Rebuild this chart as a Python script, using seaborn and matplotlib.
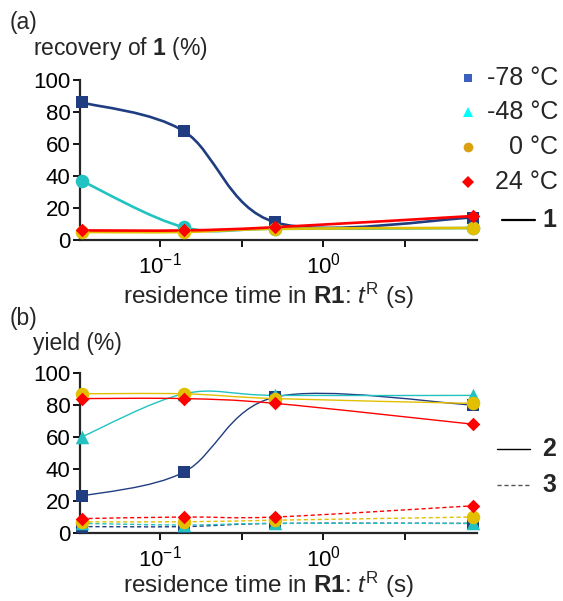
import numpy as np
import matplotlib
matplotlib.use("Agg")
import matplotlib.pyplot as plt
import seaborn as sns
from matplotlib.path import Path
from matplotlib.patches import PathPatch
from matplotlib.lines import Line2D
from matplotlib.ticker import FixedLocator, FuncFormatter, NullLocator

# residence time in R1 (s)
t_res = [0.033, 0.14, 0.51, 8.3]
temps = ["-78 °C", "-48 °C", "0 °C", "24 °C"]

# (a) recovery of 1 (%)
rec_m78 = [86, 68, 11, 14]
rec_m48 = [37, 8, 7, 7.5]
rec_0 = [5, 5, 7, 7.5]
rec_24 = [6, 6, 8, 15]

# (b) yield of 2 (solid) and 3 (dashed) (%)
y2_m78 = [23, 38, 85, 80]
y2_m48 = [60, 87, 86, 86]
y2_0 = [87, 87, 84, 81]
y2_24 = [84, 84, 81, 68]
y3_m78 = [4, 4, 6, 6]
y3_m48 = [6, 5, 6, 6]
y3_0 = [7, 7, 8, 10]
y3_24 = [9, 10, 10, 17]

colors = ["#1f3d80", "#22c2c2", "#e2c000", "#ff0000"]
leg_colors = ["#3a60c0", "#00ffff", "#d9a010", "#ff0000"]
markers_a = ["s", "o", "o", "D"]
markers_b = ["s", "^", "o", "D"]
sizes = {"s": 70, "o": 95, "^": 95, "D": 48}

sns.set_style("ticks")
plt.rcParams["font.family"] = ["Liberation Sans", "DejaVu Sans"]
plt.rcParams["mathtext.fontset"] = "custom"
plt.rcParams["mathtext.rm"] = "Liberation Sans"
plt.rcParams["mathtext.it"] = "Liberation Sans:italic"
plt.rcParams["mathtext.bf"] = "Liberation Sans:bold"

W, H = 563, 601
fig = plt.figure(figsize=(W / 100, H / 100), dpi=100)


def fx(px):
    return px / W


def fy(py):
    return 1 - py / H


def smooth_line(ax, x, y, **kw):
    # Catmull-Rom style bezier in log-x space, like a "smoothed line"
    pts = np.column_stack([np.log10(x), np.asarray(y, float)])
    p = np.vstack([pts[0], pts, pts[-1]])
    verts = [pts[0]]
    codes = [Path.MOVETO]
    for i in range(len(pts) - 1):
        c1 = p[i + 1] + (p[i + 2] - p[i]) / 6
        c2 = p[i + 2] - (p[i + 3] - p[i + 1]) / 6
        verts += [c1, c2, pts[i + 1]]
        codes += [Path.CURVE4] * 3
    verts = np.array(verts)
    verts[:, 0] = 10 ** verts[:, 0]
    ax.add_patch(PathPatch(Path(verts, codes), fill=False, **kw))


def style_axes(ax, label_y):
    ax.set_xscale("log")
    ax.set_xlim(0.0323, 8.8)
    ax.set_ylim(0, 100)
    ax.set_yticks([0, 20, 40, 60, 80, 100])
    ax.xaxis.set_major_locator(FixedLocator([0.1, 10 ** -0.5, 1, 10 ** 0.5]))
    ax.xaxis.set_minor_locator(NullLocator())
    ax.xaxis.set_major_formatter(FuncFormatter(
        lambda v, pos: {0.1: r"$10^{-1}$", 1: r"$10^{0}$"}.get(round(v, 3), "")))
    sns.despine(ax=ax)
    for s in ["left", "bottom"]:
        ax.spines[s].set_linewidth(1.6)
    ax.tick_params(axis="both", direction="out", length=5, width=1.3,
                   labelsize=16, pad=2, colors="black")
    ax.tick_params(axis="x", pad=4)
    ax.set_xlabel(r"residence time in $\mathbf{R1}$: $t^{\mathrm{R}}$ (s)",
                  fontsize=17.5)
    ax.xaxis.set_label_coords(0.474, label_y)
    ax.set_ylabel("")


ax_a = fig.add_axes([fx(80), fy(240), fx(477) - fx(80), fy(80) - fy(240)])
ax_b = fig.add_axes([fx(80), fy(533), fx(477) - fx(80), fy(373) - fy(533)])

# panel (a)
rec = [rec_m78, rec_m48, rec_0, rec_24]
for vals, c, m in zip(rec, colors, markers_a):
    smooth_line(ax_a, t_res, vals, edgecolor=c, linewidth=1.9, zorder=2)
for vals, c, m in zip(rec, colors, markers_a):
    sns.scatterplot(x=t_res, y=vals, color=c, marker=m, s=sizes[m],
                    linewidth=0, ax=ax_a, zorder=3, clip_on=False)
style_axes(ax_a, -0.255)

# panel (b)
y2 = [y2_m78, y2_m48, y2_0, y2_24]
y3 = [y3_m78, y3_m48, y3_0, y3_24]
for vals, c in zip(y3, colors):
    smooth_line(ax_b, t_res, vals, edgecolor=c, linewidth=1.0,
                linestyle=(0, (3, 2)), zorder=2)
for vals, c in zip(y2, colors):
    smooth_line(ax_b, t_res, vals, edgecolor=c, linewidth=1.0, zorder=2)
for vals, c, m in zip(y3 + y2, colors + colors, markers_b + markers_b):
    sns.scatterplot(x=t_res, y=vals, color=c, marker=m, s=sizes[m],
                    linewidth=0, ax=ax_b, zorder=3, clip_on=False)
style_axes(ax_b, -0.232)

# titles
fig.text(fx(10), fy(22), "(a)", fontsize=16.5, va="center", ha="left")
fig.text(fx(33), fy(48), r"recovery of $\mathbf{1}$ (%)", fontsize=16.5,
         va="center", ha="left")
fig.text(fx(10), fy(318), "(b)", fontsize=16.5, va="center", ha="left")
fig.text(fx(33), fy(343), "yield (%)", fontsize=16.5, va="center", ha="left")

# legend (a)
leg_sizes = {"s": 6, "^": 7, "o": 7, "D": 6}
leg_markers = ["s", "^", "o", "D"]
for i, (lab, c, m) in enumerate(zip(temps, leg_colors, leg_markers)):
    yy = [78, 112, 147, 182][i]
    fig.add_artist(Line2D([fx(468)], [fy(yy)], marker=m, color=c,
                          markersize=leg_sizes[m], linestyle="none",
                          markeredgewidth=0, transform=fig.transFigure))
    fig.text(fx(558), fy(yy), lab, fontsize=18, ha="right", va="center")
fig.add_artist(Line2D([fx(502), fx(535)], [fy(220), fy(220)], color="black",
                      linewidth=1.6, transform=fig.transFigure))
fig.text(fx(556), fy(220), "1", fontsize=18, fontweight="bold",
         ha="right", va="center")

# legend (b)
fig.add_artist(Line2D([fx(497), fx(530)], [fy(449), fy(449)], color="black",
                      linewidth=1.0, transform=fig.transFigure))
fig.text(fx(556), fy(449), "2", fontsize=18, fontweight="bold",
         ha="right", va="center")
fig.add_artist(Line2D([fx(497), fx(530)], [fy(485), fy(485)], color="#555555",
                      linewidth=1.0, linestyle=(0, (3, 2)),
                      transform=fig.transFigure))
fig.text(fx(556), fy(485), "3", fontsize=18, fontweight="bold",
         ha="right", va="center")

fig.savefig("out.png", dpi=100)
